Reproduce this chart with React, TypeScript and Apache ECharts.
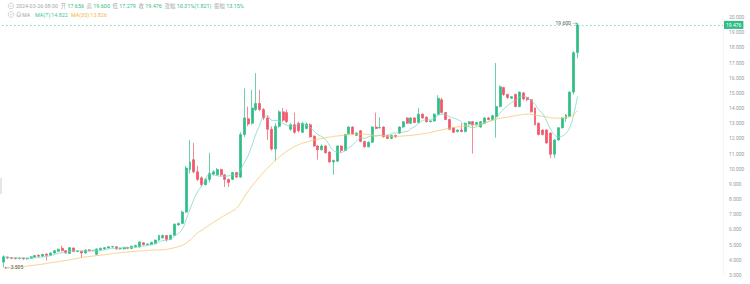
import React, { useEffect, useRef } from "react";
import * as echarts from "echarts";

// [open, close, low, high]
const ohlc: [number, number, number, number][] = [
  [3.85, 4.2, 3.505, 4.3], [4.18, 4.12, 4.05, 4.22], [4.14, 4.1, 4.04, 4.18], [4.12, 4.08, 4.02, 4.16],
  [4.08, 4.12, 4.03, 4.16], [4.12, 4.06, 4.0, 4.15], [4.06, 4.1, 4.01, 4.14], [4.1, 4.2, 4.06, 4.24],
  [4.18, 4.28, 4.14, 4.32], [4.3, 4.24, 4.18, 4.36], [4.24, 4.36, 4.2, 4.4], [4.38, 4.3, 3.95, 4.42],
  [4.3, 4.45, 4.26, 4.48], [4.45, 4.6, 4.4, 4.64], [4.56, 4.7, 4.5, 4.74], [4.76, 4.6, 4.55, 4.95],
  [4.6, 4.45, 4.4, 4.64], [4.42, 4.8, 4.38, 4.84], [4.78, 4.55, 4.5, 4.82], [4.55, 4.57, 4.5, 4.62],
  [4.56, 4.45, 4.12, 4.6], [4.45, 4.65, 4.4, 4.68], [4.66, 4.6, 4.55, 4.7], [4.6, 4.62, 4.56, 4.66],
  [4.36, 4.72, 4.32, 4.75], [4.66, 4.76, 4.62, 4.8], [4.72, 4.8, 4.68, 4.84], [4.78, 4.86, 4.74, 4.9],
  [4.85, 4.87, 4.8, 4.92], [4.86, 4.72, 4.68, 4.9], [4.72, 4.76, 4.66, 4.8], [4.72, 4.82, 4.68, 4.86],
  [4.82, 4.76, 4.7, 4.86], [4.75, 4.9, 4.72, 4.94], [4.86, 4.95, 4.8, 5.0], [4.85, 5.18, 4.8, 5.22],
  [5.12, 5.0, 4.95, 5.16], [5.0, 5.05, 4.96, 5.1], [5.0, 5.15, 4.96, 5.18], [5.06, 5.3, 5.02, 5.34],
  [5.3, 5.6, 5.25, 5.65], [5.45, 5.6, 5.4, 5.66], [5.6, 5.35, 5.2, 5.64], [5.35, 5.62, 5.3, 5.66],
  [5.62, 6.35, 5.58, 6.4], [6.3, 6.4, 6.25, 6.46], [6.4, 7.15, 6.35, 7.25], [7.15, 10.05, 7.1, 10.2],
  [9.95, 10.45, 9.7, 11.9], [10.6, 9.8, 9.7, 11.7], [9.8, 9.3, 9.2, 10.2], [9.4, 8.95, 8.8, 9.5],
  [8.95, 9.3, 8.9, 9.4], [9.3, 9.7, 9.1, 11.05], [9.65, 9.8, 9.55, 9.9], [9.6, 9.95, 9.55, 10.05],
  [9.95, 9.6, 9.5, 10.0], [9.6, 9.3, 8.8, 9.65], [9.3, 9.1, 8.8, 9.35], [9.3, 9.75, 9.25, 9.8],
  [9.75, 9.45, 9.4, 9.8], [9.45, 12.25, 9.4, 12.4], [12.25, 13.35, 12.1, 15.3], [13.3, 12.95, 12.8, 14.1],
  [13.0, 14.0, 12.9, 15.2], [13.9, 14.3, 13.8, 16.3], [14.3, 13.9, 13.8, 15.2], [13.9, 13.35, 13.2, 14.0],
  [13.35, 12.6, 11.9, 13.5], [12.6, 11.3, 11.2, 12.8], [11.3, 12.8, 10.5, 13.0], [12.8, 13.75, 12.7, 13.85],
  [13.75, 13.2, 13.1, 14.0], [13.7, 13.1, 13.0, 13.9], [12.6, 12.9, 12.5, 13.0], [12.9, 12.4, 12.3, 13.7],
  [13.0, 12.5, 12.4, 13.1], [12.4, 13.0, 12.35, 13.1], [12.65, 12.95, 12.6, 13.05], [12.9, 12.1, 12.05, 13.0],
  [12.15, 11.5, 11.45, 12.2], [11.5, 11.25, 10.6, 11.55], [11.25, 11.5, 11.2, 11.6], [11.5, 11.05, 11.0, 11.55],
  [11.1, 10.45, 10.4, 11.15], [10.45, 10.55, 9.6, 10.6], [10.5, 11.5, 10.45, 11.55], [11.5, 11.2, 11.1, 11.55],
  [11.2, 12.25, 11.15, 12.3], [12.3, 12.75, 12.25, 12.8], [12.75, 12.3, 12.25, 12.8], [12.2, 12.35, 12.15, 12.4],
  [12.5, 11.8, 11.75, 12.55], [11.8, 11.45, 11.4, 11.85], [11.45, 11.75, 11.4, 11.8], [11.75, 12.75, 11.7, 12.8],
  [12.75, 12.65, 12.6, 13.7], [12.7, 12.72, 12.65, 13.4], [12.75, 12.1, 12.05, 12.8], [12.2, 12.0, 11.95, 12.25],
  [12.0, 12.2, 11.95, 12.25], [12.2, 12.1, 12.05, 12.25], [12.35, 12.75, 12.3, 12.8], [12.75, 13.1, 12.7, 13.15],
  [13.35, 13.0, 12.95, 13.4], [13.0, 13.35, 12.95, 13.4], [13.35, 13.05, 13.0, 13.4], [13.05, 13.6, 13.0, 14.0],
  [13.6, 13.35, 13.3, 13.65], [13.4, 13.1, 13.05, 13.45], [13.1, 13.15, 13.05, 13.2], [13.15, 13.6, 13.1, 13.65],
  [13.6, 14.65, 13.55, 14.85], [14.55, 13.7, 13.65, 14.7], [13.7, 13.25, 13.2, 13.75], [13.25, 12.6, 12.55, 13.3],
  [12.7, 12.4, 12.35, 12.75], [12.45, 12.55, 12.4, 12.6], [12.55, 12.45, 12.4, 13.0], [12.45, 13.0, 12.4, 13.05],
  [12.95, 13.1, 12.9, 13.15], [13.1, 12.9, 11.0, 13.15], [12.9, 13.05, 12.85, 13.1], [12.75, 13.1, 12.7, 13.15],
  [13.0, 13.35, 12.95, 13.4], [13.35, 13.25, 13.2, 13.4], [13.25, 13.5, 13.2, 13.55], [13.45, 14.1, 12.05, 16.97],
  [14.1, 15.4, 14.05, 15.5], [15.35, 14.9, 14.8, 15.4], [14.9, 14.7, 14.6, 14.95], [14.65, 14.75, 14.6, 14.8],
  [14.9, 14.1, 14.05, 14.95], [14.1, 15.05, 14.05, 15.1], [15.0, 14.6, 14.5, 15.05], [14.7, 14.55, 14.45, 14.75],
  [14.55, 13.75, 13.7, 14.6], [14.0, 12.9, 12.85, 14.05], [13.0, 12.25, 12.2, 13.05], [12.55, 12.25, 12.2, 12.6],
  [12.55, 11.7, 11.65, 12.6], [12.35, 10.95, 10.7, 12.4], [10.95, 11.9, 10.7, 11.95], [11.9, 12.7, 11.85, 12.75],
  [12.7, 13.35, 12.65, 13.4], [13.3, 13.55, 13.1, 13.6], [13.45, 15.05, 13.4, 15.1], [15.05, 17.65, 14.9, 17.75],
  [17.656, 19.476, 17.279, 19.6],
];

// MA(30) (its history starts before the visible window)
const ma30 = [
  3.42, 3.44, 3.47, 3.5, 3.53, 3.56, 3.59, 3.62, 3.65, 3.68, 3.72, 3.76, 3.8, 3.84, 3.88, 3.92, 3.96, 4.0, 4.05, 4.1,
  4.15, 4.19, 4.22, 4.25, 4.28, 4.31, 4.34, 4.37, 4.41, 4.44, 4.47, 4.5, 4.52, 4.54, 4.56, 4.58, 4.6, 4.62, 4.63, 4.64,
  4.65, 4.66, 4.69, 4.74, 4.8, 4.87, 4.96, 5.1, 5.3, 5.55, 5.78, 5.95, 6.12, 6.29, 6.46, 6.62, 6.78, 6.94, 7.08, 7.22,
  7.4, 7.75, 8.15, 8.52, 8.86, 9.18, 9.48, 9.78, 10.05, 10.3, 10.54, 10.76, 10.97, 11.16, 11.32, 11.47, 11.59, 11.68, 11.76, 11.83,
  11.9, 11.95, 12.0, 12.05, 12.09, 12.13, 12.16, 12.19, 12.22, 12.24, 12.26, 12.27, 12.28, 12.27, 12.25, 12.23, 12.2, 12.18, 12.16, 12.14,
  12.13, 12.13, 12.14, 12.16, 12.18, 12.2, 12.23, 12.26, 12.3, 12.34, 12.39, 12.45, 12.51, 12.56, 12.62, 12.67, 12.72, 12.76, 12.78, 12.81,
  12.84, 12.87, 12.9, 12.96, 13.04, 13.12, 13.2, 13.26, 13.32, 13.37, 13.41, 13.45, 13.5, 13.54, 13.58, 13.6, 13.58, 13.54, 13.5, 13.45,
  13.41, 13.37, 13.34, 13.33, 13.34, 13.37, 13.44, 13.58, 13.826,
];

const lastDate = "2024-03-26";
const totalSlots = 186; // visible slots incl. empty space on the right
const yTicks = { min: 3, max: 20, step: 1 };
const lastClose = 19.476;

const headerLine1 = [
  ["g", "2024-03-26 08:00"], ["g", "  开 "], ["v", "17.656"], ["g", "  高 "], ["v", "19.600"],
  ["g", "  低 "], ["v", "17.279"], ["g", "  收 "], ["v", "19.476"], ["g", "  涨幅 "], ["v", "10.31%(1.821)"],
  ["g", "  振幅 "], ["v", "13.15%"],
];
const maLabels = ["MA(7):14.822", "MA(30):13.826"];

const GREEN = "#2ebd85";
const RED = "#f1566a";
const MA7C = "#7fd8c4";
const MA30C = "#f6c56f";
const FONT = 'Roboto, "Noto Sans CJK SC", sans-serif';
const HF = 5.4;

function buildDates(): string[] {
  const end = new Date(lastDate + "T00:00:00Z").getTime();
  const n = ohlc.length;
  const out: string[] = [];
  for (let i = 0; i < totalSlots; i++) {
    const d = new Date(end + (i - (n - 1)) * 86400000);
    out.push(d.toISOString().slice(0, 10));
  }
  return out;
}

function movingAvg(period: number): number[] {
  const closes = ohlc.map((c) => c[1]);
  return closes.map((_, i) => {
    const s = Math.max(0, i - period + 1);
    const w = closes.slice(s, i + 1);
    return +(w.reduce((a, b) => a + b, 0) / w.length).toFixed(3);
  });
}

let bellRegistered = false;

export default function App() {
  const ref = useRef<HTMLDivElement>(null);
  useEffect(() => {
    if (!ref.current) return;
    if (!bellRegistered) {
      echarts.graphic.registerShape(
        "bell",
        echarts.graphic.extendPath(
          "M3 0C1.6 0 1 1.2 1 2.6L1 4.4 0.2 5.4 5.8 5.4 5 4.4 5 2.6C5 1.2 4.4 0 3 0ZM2.2 5.9L3.8 5.9 3 6.6Z",
          {}
        ) as any
      );
      bellRegistered = true;
    }
    const chart = echarts.init(ref.current, null, { renderer: "svg" });
    const dates = buildDates();
    const ma7 = movingAvg(7);
    const candleData = ohlc.map(([o, c, l, h]) => [o, c, l, h]);

    const rich1 = headerLine1.map(([k, t]) => `{${k}|${t}}`).join("");

    const chevron = (cy: number) => ({
      type: "group",
      children: [
        { type: "circle", shape: { cx: 11, cy, r: 2.8 }, style: { fill: "none", stroke: "#b5b5b5", lineWidth: 0.6 } },
        {
          type: "polyline",
          shape: { points: [[9.8, cy - 0.5], [11, cy + 0.7], [12.2, cy - 0.5]] },
          style: { fill: "none", stroke: "#b5b5b5", lineWidth: 0.6 },
        },
      ],
    });

    chart.setOption({
      animation: false,
      backgroundColor: "#ffffff",
      textStyle: { fontFamily: FONT },
      grid: { left: 2, right: 27, top: 17, bottom: 9 },
      xAxis: { type: "category", data: dates, show: false, boundaryGap: true },
      yAxis: {
        type: "value",
        position: "right",
        min: yTicks.min,
        max: yTicks.max,
        interval: yTicks.step,
        axisLine: { show: true, lineStyle: { color: "#efefef", width: 0.6 } },
        axisTick: { show: false },
        splitLine: { show: false },
        axisLabel: {
          fontSize: 5,
          color: "#9a9a9a",
          margin: 6,
          fontFamily: FONT,
          formatter: (v: number) => v.toFixed(3),
        },
      },
      series: [
        {
          type: "candlestick",
          data: candleData,
          barWidth: "64%",
          itemStyle: { color: GREEN, color0: RED, borderColor: GREEN, borderColor0: RED, borderWidth: 0.7 },
          markLine: {
            silent: true,
            symbol: ["none", "none"],
            data: [{ yAxis: lastClose }],
            lineStyle: { color: "#56c9a4", type: [1.5, 2.5], width: 0.7 },
            label: {
              position: "end",
              distance: 1,
              formatter: () => lastClose.toFixed(3),
              backgroundColor: GREEN,
              color: "#fff",
              fontSize: 5,
              padding: [2, 2, 1, 2],
              fontFamily: FONT,
            },
          },
          markPoint: {
            silent: true,
            symbol: "circle",
            symbolSize: 1,
            itemStyle: { color: "rgba(0,0,0,0)" },
            data: [
              {
                type: "max",
                valueDim: "highest",
                label: {
                  show: true,
                  position: "left",
                  distance: 0,
                  fontSize: 5,
                  color: "#555",
                  fontFamily: FONT,
                  formatter: (p: any) => Number(p.value).toFixed(3) + " →",
                },
              },
              {
                type: "min",
                valueDim: "lowest",
                label: {
                  show: true,
                  position: "right",
                  distance: 0,
                  fontSize: 5,
                  color: "#555",
                  fontFamily: FONT,
                  formatter: (p: any) => "← " + Number(p.value).toFixed(3),
                },
              },
            ],
          },
        },
        {
          type: "line",
          data: ma7,
          showSymbol: false,
          smooth: true,
          lineStyle: { color: MA7C, width: 0.8 },
          silent: true,
        },
        {
          type: "line",
          data: ma30,
          showSymbol: false,
          smooth: true,
          lineStyle: { color: MA30C, width: 0.8 },
          silent: true,
        },
      ],
      graphic: [
        chevron(6),
        chevron(14.5),
        {
          type: "text",
          x: 16,
          y: 6,
          style: {
            text: rich1,
            verticalAlign: "middle",
            fontFamily: FONT,
            fontSize: HF,
            rich: {
              g: { fill: "#a8a8a8", fontSize: HF, fontFamily: FONT },
              v: { fill: GREEN, fontSize: HF, fontFamily: FONT },
            },
          },
        },
        {
          type: "bell",
          x: 16.5,
          y: 12,
          scaleX: 0.75,
          scaleY: 0.75,
          style: { fill: "none", stroke: "#a8a8a8", lineWidth: 0.8 },
        },
        {
          type: "text",
          x: 22,
          y: 14.5,
          style: { text: "MA", fill: "#a8a8a8", fontSize: HF, fontFamily: FONT, verticalAlign: "middle" },
        },
        {
          type: "text",
          x: 35,
          y: 14.5,
          style: { text: maLabels[0], fill: "#3fc39f", fontSize: HF, fontFamily: FONT, verticalAlign: "middle" },
        },
        {
          type: "text",
          x: 71,
          y: 14.5,
          style: { text: maLabels[1], fill: "#f0b648", fontSize: HF, fontFamily: FONT, verticalAlign: "middle" },
        },
        { type: "rect", shape: { x: 0, y: 178, width: 2, height: 16 }, style: { fill: "#e6e6e6" } },
      ],
    });
    return () => chart.dispose();
  }, []);
  return (
    <div
      ref={ref}
      style={{ position: "fixed", left: 0, top: 0, width: 750, height: 284, background: "#fff" }}
    />
  );
}
